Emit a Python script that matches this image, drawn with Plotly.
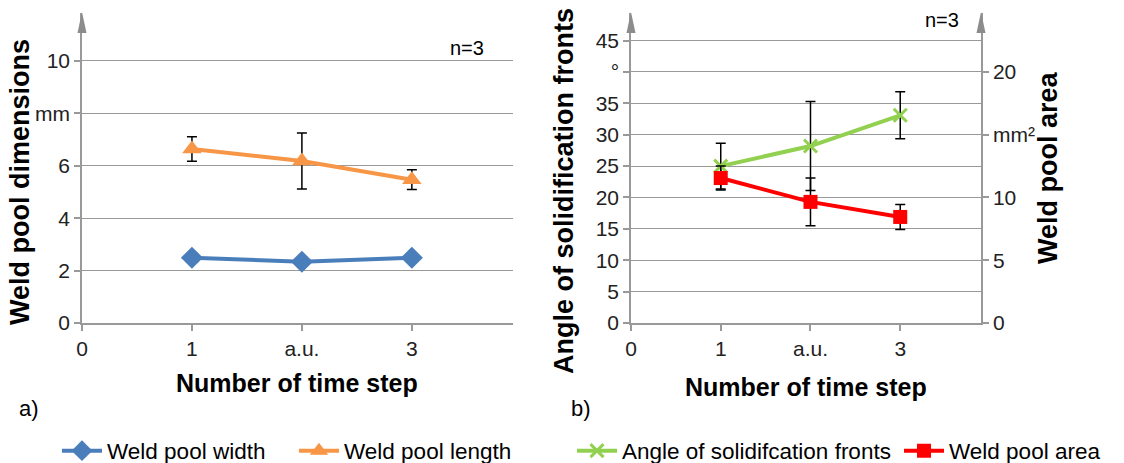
import plotly.graph_objects as go

W, H = 1124, 463
FONT = "Liberation Sans, Arial, sans-serif"

# ---- data ----
steps = [1, 2, 3]
xtick_vals = [0, 1, 2, 3]
xtick_text = ["0", "1", "a.u.", "3"]

width_mm = [2.49, 2.34, 2.49]
length_mm = [6.64, 6.18, 5.47]
length_err = [0.47, 1.07, 0.38]

angle_deg = [25.0, 28.2, 33.1]
angle_err = [3.65, 7.1, 3.75]
area_mm2 = [11.55, 9.65, 8.45]
area_err = [0.95, 1.9, 1.0]

left_yvals = [0, 2, 4, 6, 8, 10]
left_ytext = ["0", "2", "4", "6", "mm", "10"]
angle_yvals = [0, 5, 10, 15, 20, 25, 30, 35, 40, 45]
angle_ytext = ["0", "5", "10", "15", "20", "25", "30", "35", "°", "45"]
area_yvals = [0, 5, 10, 15, 20]
area_ytext = ["0", "5", "10", "mm²", "20"]

# ---- colours ----
BLUE = "#4A7EBB"
ORANGE = "#F79646"
GREEN = "#92D050"
RED = "#FF0000"
GRAY = "#999999"
ARROW = "#8C8C8C"


def fx(px):
    return px / W


def fy(py):
    return 1 - py / H


L_X0, L_X1 = 82, 513
R_X0, R_X1 = 631, 981
Y_TOP, Y_BOT = 13, 323

err_style = dict(type="data", color="black", thickness=1.5, width=5)

fig = go.Figure()
fig.add_trace(go.Scatter(
    x=steps, y=width_mm, name="Weld pool width", mode="lines+markers",
    line=dict(color=BLUE, width=4),
    marker=dict(symbol="diamond", size=17, color=BLUE),
    xaxis="x", yaxis="y", legend="legend"))
fig.add_trace(go.Scatter(
    x=steps, y=length_mm, name="Weld pool length", mode="lines+markers",
    line=dict(color=ORANGE, width=4),
    marker=dict(symbol="triangle-up", size=17, color=ORANGE),
    error_y=dict(array=length_err, **err_style),
    xaxis="x", yaxis="y", legend="legend2"))
fig.add_trace(go.Scatter(
    x=steps, y=angle_deg, name="Angle of solidifcation fronts", mode="lines+markers",
    line=dict(color=GREEN, width=4),
    marker=dict(symbol="x-thin", size=13, color=GREEN, line=dict(width=3, color=GREEN)),
    error_y=dict(array=angle_err, **err_style),
    xaxis="x2", yaxis="y2", legend="legend3"))
fig.add_trace(go.Scatter(
    x=steps, y=area_mm2, name="Weld pool area", mode="lines+markers",
    line=dict(color=RED, width=4),
    marker=dict(symbol="square", size=14, color=RED),
    error_y=dict(array=area_err, **err_style),
    xaxis="x2", yaxis="y3", legend="legend4"))

tickfont = dict(family=FONT, size=21, color="#222222")
xcommon = dict(tickmode="array", tickvals=xtick_vals, ticktext=xtick_text,
               showline=True, linecolor=GRAY, linewidth=1.5, ticks="outside",
               ticklen=6, tickcolor=GRAY, tickwidth=1.5, showgrid=False,
               zeroline=False, tickfont=tickfont)
ycommon = dict(tickmode="array", showline=True, linecolor=GRAY, linewidth=1.5,
               ticks="outside", ticklen=6, tickcolor=GRAY, tickwidth=1.5,
               showgrid=True, gridcolor=GRAY, gridwidth=1.3, zeroline=False,
               tickfont=tickfont)


def legend_at(px):
    return dict(orientation="h", x=fx(px), y=fy(451), xanchor="left", yanchor="middle",
                font=dict(family=FONT, size=22.5, color="black"),
                bgcolor="rgba(0,0,0,0)", borderwidth=0, itemwidth=40)


fig.update_layout(
    width=W, height=H, margin=dict(l=0, r=0, t=0, b=0, autoexpand=False),
    paper_bgcolor="white", plot_bgcolor="white",
    font=dict(family=FONT, color="black"),
    xaxis=dict(domain=[fx(L_X0), fx(L_X1)], range=[0, 3.92], anchor="y", **xcommon),
    yaxis=dict(domain=[fy(Y_BOT), fy(Y_TOP)], range=[0, 11.83], anchor="x",
               tickvals=left_yvals, ticktext=left_ytext, **ycommon),
    xaxis2=dict(domain=[fx(R_X0), fx(R_X1)], range=[0, 3.9], anchor="y2", **xcommon),
    yaxis2=dict(domain=[fy(Y_BOT), fy(Y_TOP)], range=[0, 49.4], anchor="x2",
                tickvals=angle_yvals, ticktext=angle_ytext, **ycommon),
    yaxis3=dict(range=[0, 24.7], overlaying="y2", side="right", anchor="x2",
                tickmode="array", tickvals=area_yvals, ticktext=area_ytext,
                showline=True, linecolor=GRAY, linewidth=1.5, ticks="outside",
                ticklen=6, tickcolor=GRAY, tickwidth=1.5, showgrid=False,
                zeroline=False, tickfont=tickfont),
    legend=legend_at(57),
    legend2=legend_at(294),
    legend3=legend_at(572),
    legend4=legend_at(899),
    showlegend=True,
)

# axis arrowheads
shapes = []
for ax_px in (L_X0, R_X0, R_X1):
    shapes.append(dict(
        type="path", xref="paper", yref="paper",
        path=f"M {fx(ax_px)},{fy(12)} L {fx(ax_px - 4.5)},{fy(33)} L {fx(ax_px + 4.5)},{fy(33)} Z",
        fillcolor=ARROW, line=dict(width=0)))
fig.update_layout(shapes=shapes)


def ann(text, px, py, size, angle=0, bold=False):
    t = f"<b>{text}</b>" if bold else text
    fig.add_annotation(text=t, x=fx(px), y=fy(py), xref="paper", yref="paper",
                       showarrow=False, textangle=angle, xanchor="center", yanchor="middle",
                       font=dict(family=FONT, size=size, color="black"))


ann("Weld pool dimensions", 20, 182, 27, -90, True)
ann("Angle of solidification fronts", 564, 191, 27, -90, True)
ann("Weld pool area", 1048, 168, 27, -90, True)
ann("Number of time step", 297, 383, 25, 0, True)
ann("Number of time step", 806, 387, 25, 0, True)
ann("n=3", 467, 48, 20)
ann("n=3", 942, 20, 20)
ann("a)", 29, 408, 22)
ann("b)", 581, 408, 22)

fig.write_html(
    "out.html",
    config={"displayModeBar": False},
    post_script="document.body.style.margin='0';document.body.style.overflow='hidden';",
)
